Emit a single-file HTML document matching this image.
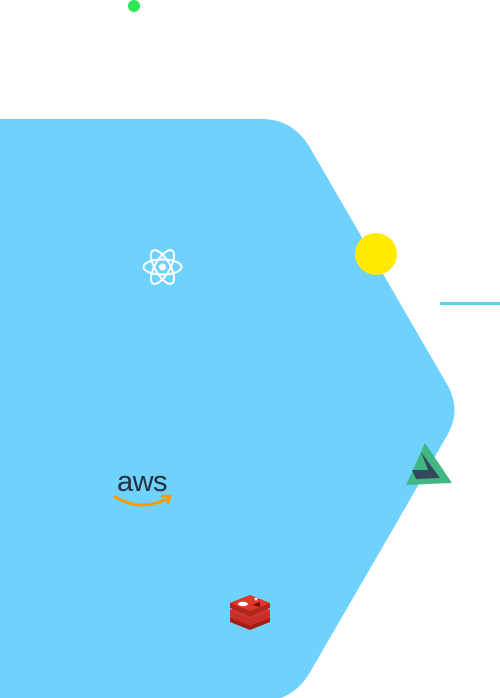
<!DOCTYPE html>
<html><head><style>
html,body{margin:0;padding:0;background:#fff;width:500px;height:698px;overflow:hidden}
</style></head><body>
<svg width="500" height="698" viewBox="0 0 500 698" xmlns="http://www.w3.org/2000/svg">
<path d="M0,119 L262,119 Q292,119 309,146 L448,386 Q461,410 448,434 L309,674 Q292,701 262,701 L0,701 Z" fill="#6fd1fe"/>
<circle cx="134" cy="6" r="6" fill="#2ee656"/>
<circle cx="376" cy="254" r="21" fill="#ffea00"/>
<rect x="440" y="302" width="60" height="3" fill="#62cfe2"/>
<g transform="translate(162.5,267)" fill="none" stroke="#fff" stroke-width="2">
<ellipse rx="19" ry="7.5"/>
<ellipse rx="19" ry="7.5" transform="rotate(60)"/>
<ellipse rx="19" ry="7.5" transform="rotate(-60)"/>
<circle r="3.5" fill="#fff" stroke="none"/>
</g>
<text x="142" y="491" text-anchor="middle" font-family="Liberation Sans, sans-serif" font-size="29" fill="#232f3e" letter-spacing="-0.5">aws</text>
<path d="M115,497 Q140,512 167,499" fill="none" stroke="#ff9900" stroke-width="3" stroke-linecap="round"/>
<path d="M162,496 L170,496 L168,503" fill="none" stroke="#ff9900" stroke-width="2.5" stroke-linecap="round"/>
<polygon points="425,443 452,483 406,485" fill="#41b883"/>
<polygon points="421,452 440,478 416,479 412,470 428,470" fill="#35495e"/>
<g transform="translate(250,613)">
<path d="M-20,4 L0,-4 L20,4 L20,9 L0,17 L-20,9 Z" fill="#a41e11"/>
<path d="M-20,4 L0,12 L20,4" fill="none" stroke="#e0362b" stroke-width="1"/>
<path d="M-20,-3 L0,-11 L20,-3 L20,3 L0,11 L-20,3 Z" fill="#c6302b"/>
<path d="M-20,-3 L0,5 L20,-3" fill="none" stroke="#e0362b" stroke-width="1"/>
<path d="M-20,-10 L0,-18 L20,-10 L20,-5 L0,3 L-20,-5 Z" fill="#b0261c"/>
<path d="M-20,-10 L0,-18 L20,-10 L0,-2 Z" fill="#dc382b"/>
<ellipse cx="-7" cy="-9" rx="5" ry="2.2" fill="#fff"/>
<path d="M4,-15 L8,-15 L6,-12 Z" fill="#fff"/>
<path d="M2,-8 L10,-11 L10,-6 Z" fill="#7a0c00"/>
</g>
</svg>
</body></html>
